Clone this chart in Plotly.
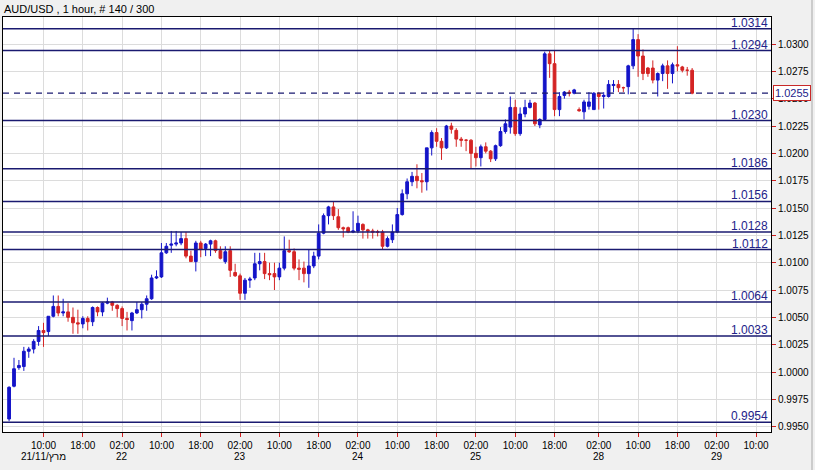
import plotly.graph_objects as go
import pandas as pd

# ---- data ----
opens = [0.9957, 0.9987, 1.0004, 1.0005, 1.0019, 1.0021, 1.0028, 1.0038, 1.0037, 1.0051,
         1.0060, 1.0054, 1.0055, 1.0050, 1.0045, 1.0044, 1.0049, 1.0046, 1.0059, 1.0055,
         1.0063, 1.0064, 1.0061, 1.0058, 1.0049, 1.0047, 1.0054, 1.0057, 1.0062, 1.0067,
         1.0086, 1.0087, 1.0109, 1.0116, 1.0117, 1.0118, 1.0122, 1.0106, 1.0101, 1.0118,
         1.0113, 1.0117, 1.0120, 1.0111, 1.0101, 1.0111, 1.0091, 1.0088, 1.0072, 1.0084,
         1.0086, 1.0099, 1.0101, 1.0090, 1.0090, 1.0087, 1.0095, 1.0111, 1.0110, 1.0095,
         1.0095, 1.0090, 1.0097, 1.0106, 1.0127, 1.0143, 1.0151, 1.0142, 1.0132, 1.0132,
         1.0128, 1.0129, 1.0135, 1.0130, 1.0129, 1.0128, 1.0128, 1.0115, 1.0121, 1.0128,
         1.0144, 1.0163, 1.0174, 1.0179, 1.0175, 1.0174, 1.0205, 1.0219, 1.0211, 1.0205,
         1.0225, 1.0221, 1.0213, 1.0212, 1.0212, 1.0200, 1.0196, 1.0206, 1.0202, 1.0195,
         1.0207, 1.0220, 1.0224, 1.0242, 1.0218, 1.0236, 1.0242, 1.0246, 1.0226, 1.0231,
         1.0291, 1.0282, 1.0240, 1.0253, 1.0256, 1.0255, 1.0240, 1.0238, 1.0243, 1.0240,
         1.0255, 1.0252, 1.0252, 1.0262, 1.0263, 1.0260, 1.0261, 1.0280, 1.0304, 1.0289,
         1.0278, 1.0278, 1.0267, 1.0273, 1.0280, 1.0273, 1.0281, 1.0279, 1.0276, 1.0276]
highs = [0.9987, 1.0013, 1.0011, 1.0023, 1.0023, 1.0030, 1.0042, 1.0045, 1.0051, 1.0070,
         1.0070, 1.0067, 1.0063, 1.0059, 1.0057, 1.0051, 1.0051, 1.0060, 1.0060, 1.0064,
         1.0068, 1.0065, 1.0062, 1.0060, 1.0055, 1.0055, 1.0064, 1.0064, 1.0070, 1.0089,
         1.0093, 1.0118, 1.0118, 1.0129, 1.0129, 1.0128, 1.0128, 1.0111, 1.0120, 1.0120,
         1.0118, 1.0121, 1.0121, 1.0115, 1.0115, 1.0115, 1.0099, 1.0090, 1.0086, 1.0087,
         1.0109, 1.0109, 1.0109, 1.0100, 1.0100, 1.0100, 1.0124, 1.0121, 1.0113, 1.0103,
         1.0101, 1.0112, 1.0110, 1.0135, 1.0145, 1.0152, 1.0156, 1.0149, 1.0133, 1.0133,
         1.0147, 1.0143, 1.0136, 1.0131, 1.0131, 1.0130, 1.0130, 1.0124, 1.0135, 1.0150,
         1.0167, 1.0177, 1.0183, 1.0190, 1.0182, 1.0205, 1.0221, 1.0223, 1.0214, 1.0226,
         1.0228, 1.0223, 1.0215, 1.0213, 1.0213, 1.0206, 1.0208, 1.0210, 1.0203, 1.0208,
         1.0224, 1.0231, 1.0252, 1.0249, 1.0242, 1.0249, 1.0249, 1.0247, 1.0232, 1.0293,
         1.0294, 1.0294, 1.0256, 1.0257, 1.0258, 1.0259, 1.0242, 1.0249, 1.0256, 1.0256,
         1.0256, 1.0256, 1.0267, 1.0267, 1.0267, 1.0261, 1.0281, 1.0314, 1.0309, 1.0295,
         1.0279, 1.0285, 1.0274, 1.0282, 1.0285, 1.0283, 1.0298, 1.0280, 1.0279, 1.0278]
lows = [0.9955, 0.9986, 1.0002, 1.0001, 1.0013, 1.0017, 1.0024, 1.0023, 1.0033, 1.0050,
        1.0051, 1.0051, 1.0046, 1.0035, 1.0035, 1.0040, 1.0038, 1.0042, 1.0051, 1.0051,
        1.0062, 1.0056, 1.0050, 1.0042, 1.0038, 1.0038, 1.0053, 1.0049, 1.0056, 1.0066,
        1.0085, 1.0086, 1.0108, 1.0109, 1.0115, 1.0116, 1.0104, 1.0101, 1.0092, 1.0105,
        1.0106, 1.0106, 1.0109, 1.0103, 1.0099, 1.0087, 1.0087, 1.0066, 1.0066, 1.0077,
        1.0084, 1.0093, 1.0085, 1.0084, 1.0075, 1.0084, 1.0093, 1.0109, 1.0093, 1.0084,
        1.0082, 1.0077, 1.0095, 1.0103, 1.0126, 1.0135, 1.0139, 1.0130, 1.0123, 1.0127,
        1.0127, 1.0127, 1.0122, 1.0122, 1.0122, 1.0124, 1.0112, 1.0114, 1.0118, 1.0127,
        1.0143, 1.0158, 1.0170, 1.0168, 1.0164, 1.0166, 1.0198, 1.0206, 1.0194, 1.0204,
        1.0218, 1.0206, 1.0206, 1.0202, 1.0186, 1.0188, 1.0188, 1.0200, 1.0192, 1.0193,
        1.0206, 1.0218, 1.0218, 1.0216, 1.0216, 1.0233, 1.0241, 1.0225, 1.0223, 1.0230,
        1.0269, 1.0234, 1.0234, 1.0250, 1.0252, 1.0254, 1.0238, 1.0231, 1.0240, 1.0240,
        1.0240, 1.0241, 1.0251, 1.0256, 1.0256, 1.0256, 1.0254, 1.0277, 1.0270, 1.0267,
        1.0270, 1.0264, 1.0252, 1.0266, 1.0259, 1.0264, 1.0275, 1.0274, 1.0271, 1.0254]
closes = [0.9986, 1.0003, 1.0006, 1.0019, 1.0021, 1.0028, 1.0038, 1.0036, 1.0051, 1.0060,
          1.0054, 1.0055, 1.0050, 1.0045, 1.0044, 1.0049, 1.0046, 1.0059, 1.0055, 1.0063,
          1.0064, 1.0061, 1.0058, 1.0049, 1.0048, 1.0054, 1.0057, 1.0062, 1.0067, 1.0086,
          1.0087, 1.0109, 1.0115, 1.0117, 1.0118, 1.0122, 1.0106, 1.0101, 1.0118, 1.0112,
          1.0117, 1.0120, 1.0111, 1.0104, 1.0110, 1.0093, 1.0088, 1.0072, 1.0084, 1.0085,
          1.0099, 1.0101, 1.0090, 1.0089, 1.0087, 1.0095, 1.0111, 1.0110, 1.0095, 1.0094,
          1.0090, 1.0097, 1.0106, 1.0127, 1.0143, 1.0151, 1.0143, 1.0132, 1.0131, 1.0128,
          1.0129, 1.0136, 1.0130, 1.0129, 1.0128, 1.0128, 1.0115, 1.0122, 1.0128, 1.0144,
          1.0163, 1.0174, 1.0179, 1.0175, 1.0174, 1.0205, 1.0219, 1.0211, 1.0205, 1.0225,
          1.0222, 1.0213, 1.0212, 1.0212, 1.0200, 1.0196, 1.0206, 1.0202, 1.0195, 1.0207,
          1.0220, 1.0227, 1.0242, 1.0218, 1.0236, 1.0242, 1.0246, 1.0227, 1.0231, 1.0291,
          1.0282, 1.0240, 1.0252, 1.0256, 1.0255, 1.0258, 1.0239, 1.0247, 1.0247, 1.0255,
          1.0252, 1.0253, 1.0263, 1.0263, 1.0260, 1.0260, 1.0280, 1.0304, 1.0289, 1.0273,
          1.0273, 1.0267, 1.0273, 1.0280, 1.0273, 1.0281, 1.0280, 1.0276, 1.0276, 1.0255]

levels = [1.0314, 1.0294, 1.0230, 1.0186, 1.0156, 1.0128, 1.0112, 1.0064, 1.0033, 0.9954]
last_price = 1.0255
title_text = "AUD/USD , 1 hour, # 140 / 300"
first_date_label = "21/11/מרץ"

# trading-hour timeline (weekend removed) incl. empty future bars
session1 = pd.date_range("2011-11-21 03:00", "2011-11-25 22:00", freq="h")
session2 = pd.date_range("2011-11-27 22:00", "2011-11-29 12:00", freq="h")
times = session1.append(session2)

bars = list(range(len(opens)))
tick_idx = [i for i, t in enumerate(times) if t.hour in (2, 10, 18)]
tick_text = [times[i].strftime("%H:%M") for i in tick_idx]
date_idx = [tick_idx[0]] + [i for i in tick_idx if times[i].hour == 2]
date_text = [first_date_label] + [str(times[i].day) for i in tick_idx if times[i].hour == 2]

BLUE = "#1414c8"
RED = "#d42424"
NAVY = "#1a1a70"
FONT = "Liberation Sans, Arial, sans-serif"

fig = go.Figure()
fig.add_trace(go.Candlestick(
    x=bars, open=opens, high=highs, low=lows, close=closes,
    increasing=dict(line=dict(color=BLUE, width=1), fillcolor=BLUE),
    decreasing=dict(line=dict(color=RED, width=1), fillcolor=RED),
    whiskerwidth=0, showlegend=False, hoverinfo="skip",
))

shapes = []
for lv in levels:
    shapes.append(dict(type="line", xref="paper", x0=0, x1=1, yref="y", y0=lv, y1=lv,
                       line=dict(color=NAVY, width=1.5), layer="above"))
shapes.append(dict(type="line", xref="paper", x0=0, x1=1, yref="y", y0=last_price, y1=last_price,
                   line=dict(color=NAVY, width=1.2, dash="6px,5px"), layer="above"))
# window edge on the right of the picture
shapes.append(dict(type="line", xref="paper", x0=1.0534, x1=1.0534, yref="paper",
                   y0=-0.1, y1=1.05, line=dict(color="#a8a8a8", width=1)))

annotations = []
for lv in levels:
    annotations.append(dict(x=1, xref="paper", xanchor="right", xshift=-1,
                            y=lv, yref="y", yanchor="bottom", yshift=-3,
                            text=f"{lv:.4f}", showarrow=False,
                            font=dict(family=FONT, size=12, color="#23238a")))
annotations.append(dict(x=1, xref="paper", xanchor="left", xshift=2,
                        y=last_price, yref="y", yanchor="middle",
                        text=f"{last_price:.4f}", showarrow=False,
                        bgcolor="white", bordercolor="#c82828", borderwidth=1, borderpad=1,
                        font=dict(family=FONT, size=11, color="#23238a")))
for i, t in zip(date_idx, date_text):
    annotations.append(dict(x=i, xref="x", y=-0.06, yref="paper", yanchor="middle",
                            xanchor="center", text=t, showarrow=False,
                            font=dict(family=FONT, size=10, color="black")))
annotations.append(dict(x=0, xref="paper", xanchor="left", xshift=-1,
                        y=1, yref="paper", yanchor="bottom", yshift=0,
                        text=title_text, showarrow=False,
                        font=dict(family=FONT, size=11, color="black")))

fig.update_layout(
    width=815, height=470,
    margin=dict(l=3, r=44, t=17, b=38),
    paper_bgcolor="#f0f0f0", plot_bgcolor="white",
    boxgap=0.2,
    shapes=shapes, annotations=annotations,
    xaxis=dict(range=[-1.24, 155.05], rangeslider=dict(visible=False),
               tickmode="array", tickvals=tick_idx, ticktext=tick_text,
               ticks="outside", ticklen=4, tickcolor="#d02020",
               showgrid=True, gridcolor="#dcdcdc", gridwidth=1,
               showline=True, linecolor="black", linewidth=1, mirror=True,
               zeroline=False, tickfont=dict(family=FONT, size=10, color="black")),
    yaxis=dict(range=[0.994514, 1.032469], side="right", dtick=0.0025, tick0=1.0,
               tickformat=".4f", ticks="outside", ticklen=4, tickcolor="#d02020",
               showgrid=True, gridcolor="#dcdcdc", gridwidth=1,
               showline=True, linecolor="black", linewidth=1, mirror=True,
               zeroline=False, tickfont=dict(family=FONT, size=10, color="black")),
)

fig.write_html("out.html", config={"displayModeBar": False},
               post_script="document.body.style.margin='0';document.body.style.background='#f0f0f0';")
